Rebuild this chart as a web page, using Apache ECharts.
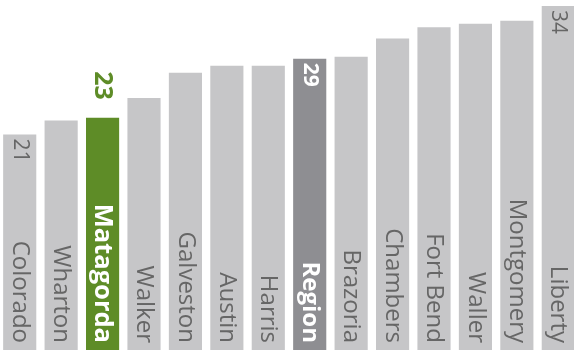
<!DOCTYPE html>
<html>
<head>
<meta charset="utf-8">
<script src="https://cdn.jsdelivr.net/npm/echarts@6/dist/echarts.min.js"></script>
<style>
  html, body { margin: 0; padding: 0; background: #fff; }
  #chart { width: 574px; height: 350px; }
</style>
</head>
<body>
<div id="chart"></div>
<script>
const categories = ['Colorado', 'Wharton', 'Matagorda', 'Walker', 'Galveston', 'Austin', 'Harris',
  'Region', 'Brazoria', 'Chambers', 'Fort Bend', 'Waller', 'Montgomery', 'Liberty']
const values = [21.3, 22.7, 22.95, 24.9, 27.4, 28.1, 28.1, 28.8, 29.0, 30.8, 31.9, 32.25, 32.55, 34.0]
// only these bars get a value printed
const shownValues = ['Colorado', 'Matagorda', 'Region', 'Liberty']
const focus = 'Matagorda'
const region = 'Region'

const FONT = 'Open Sans'
const gray = '#c6c6c8'
const green = '#5e8c27'
const dark = '#8e8e92'

const chart = echarts.init(document.getElementById('chart'))

const barData = categories.map((c, i) => {
  let color = gray
  let label = { color: '#666' }
  if (c === focus) {
    color = green
    label = { color: '#fff', fontWeight: 'bold', fontSize: 25.5 }
  }
  if (c === region) {
    color = dark
    label = { color: '#fff', fontWeight: 'bold' }
  }
  return {
    value: values[i],
    itemStyle: { color: color },
    label: label
  }
})

const valueData = categories.map((c, i) => {
  const item = { value: values[i], itemStyle: { color: 'transparent' } }
  if (shownValues.indexOf(c) < 0) {
    item.label = { show: false }
  } else if (c === focus) {
    item.label = { position: 'top', align: 'right', distance: 18, color: green, fontWeight: 'bold', fontSize: 25 }
  } else if (c === region) {
    item.label = { color: '#fff', fontWeight: 'bold' }
  }
  return item
})

chart.setOption({
  animation: false,
  grid: { left: -1, width: 580, top: 0, bottom: 0, outerBoundsMode: 'none' },
  xAxis: {
    type: 'category',
    data: categories,
    show: false
  },
  yAxis: {
    type: 'value',
    min: 0,
    max: 34.6,
    show: false
  },
  series: [
    {
      name: 'names',
      type: 'bar',
      barWidth: '80%',
      data: barData,
      label: {
        show: true,
        position: 'insideBottom',
        rotate: -90,
        align: 'right',
        verticalAlign: 'middle',
        distance: 7,
        fontFamily: FONT,
        fontSize: 24,
        formatter: p => p.name
      }
    },
    {
      name: 'values',
      type: 'bar',
      barWidth: '80%',
      barGap: '-100%',
      silent: true,
      data: valueData,
      label: {
        show: true,
        position: 'insideTop',
        rotate: -90,
        align: 'left',
        verticalAlign: 'middle',
        distance: 4,
        fontFamily: FONT,
        fontSize: 21,
        color: '#666',
        formatter: p => Math.round(p.value)
      }
    }
  ]
})
</script>
</body>
</html>
